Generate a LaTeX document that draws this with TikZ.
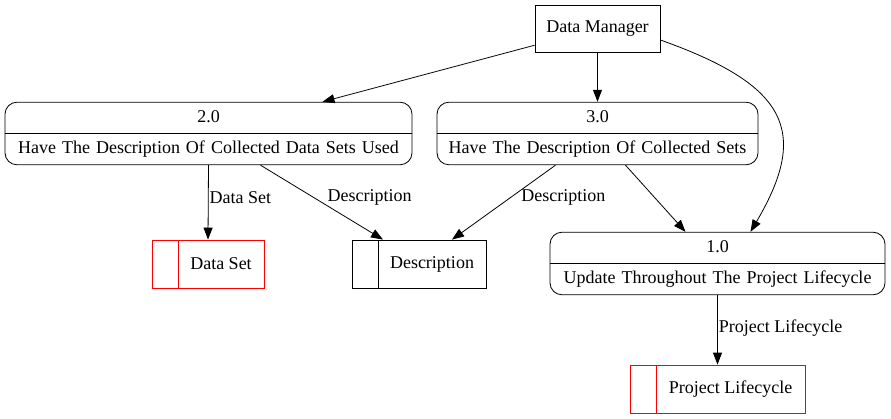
\documentclass[tikz,border=0pt]{standalone}
\usepackage{fontspec}
\setmainfont{Liberation Serif}
\usetikzlibrary{shapes.multipart, arrows.meta, positioning, calc}

\begin{document}
\begin{tikzpicture}[
  x=1pt, y=-1pt,
  font=\fontsize{18}{21}\selectfont,
  dfentity/.style={draw=black, line width=0.8pt, minimum width=125pt, minimum height=47pt,
                   inner sep=0pt},
  dfproc/.style={rectangle split, rectangle split parts=2, draw=black, line width=0.8pt,
                 rounded corners=12pt, align=center, inner xsep=0pt, inner ysep=4.75pt},
  dfstore/.style={draw=#1, line width=0.8pt, minimum height=48pt, inner sep=0pt,
                  path picture={\draw[#1, line width=0.8pt]
                    ([xshift=26pt]path picture bounding box.north west) --
                    ([xshift=26pt]path picture bounding box.south west);}},
  dfar/.style={draw=black, line width=0.8pt, -{Triangle[length=12pt,width=9pt]}},
  lab/.style={inner sep=1pt, anchor=west}
]
\useasboundingbox (0,0) rectangle (891,419);

%--------------------------------------------------------------
% Entita' e processi
%--------------------------------------------------------------
\node[dfentity] (dm) at (597.5,28.5) {Data Manager};

\node[dfproc, text width=407pt] (p2) at (208.5,133.5)
  {\strut 2.0 \nodepart{two}\strut Have The Description Of Collected Data Sets Used};
\node[dfproc, text width=321pt] (p3) at (597.5,133.5)
  {\strut 3.0 \nodepart{two}\strut Have The Description Of Collected Sets};
\node[dfproc, text width=335pt] (p1) at (717.5,263.5)
  {\strut 1.0 \nodepart{two}\strut Update Throughout The Project Lifecycle};

%--------------------------------------------------------------
% Archivi
%--------------------------------------------------------------
\node[dfstore=red, minimum width=112pt,
      label={[xshift=13pt]center:Data Set}] (ds) at (208,264) {};
\node[dfstore=black, minimum width=134pt,
      label={[xshift=13pt]center:Description}] (desc) at (419,264) {};
\node[dfstore=red, minimum width=175pt,
      label={[xshift=13pt]center:Project Lifecycle}] (pl) at (717.5,389) {};

%--------------------------------------------------------------
% Flussi
%--------------------------------------------------------------
\coordinate (p1in) at ([xshift=33pt]p1.north);
\draw[dfar] (dm) -- ([xshift=114pt]p2.north);
\draw[dfar] (dm.south) -- (p3.north);
\draw[dfar] (dm.east |- 0,40) .. controls (787,85) and (810,131) .. (p1in);

\draw[dfar] (p2.south) -- node[lab, pos=0.43] {Data Set} (ds.north);
\draw[dfar] ([xshift=52pt]p2.south) -- node[lab, pos=0.43, xshift=13pt] {Description}
  ([xshift=-36pt]desc.north);
\draw[dfar] ([xshift=-42pt]p3.south) -- node[lab, pos=0.43, xshift=9pt] {Description}
  ([xshift=33pt]desc.north);
\draw[dfar] ([xshift=28pt]p3.south) -- ([xshift=-32pt]p1.north);

\draw[dfar] (p1.south) -- node[lab, pos=0.48] {Project Lifecycle} (pl.north);

\end{tikzpicture}
\end{document}
